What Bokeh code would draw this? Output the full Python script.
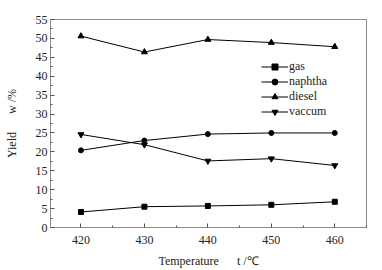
from bokeh.plotting import figure
from bokeh.models import FixedTicker, Legend, LegendItem
from bokeh.embed import file_html
from bokeh.resources import INLINE

temps = [420, 430, 440, 450, 460]
gas = [4.1, 5.5, 5.7, 6.0, 6.8]
naphtha = [20.4, 23.0, 24.7, 25.0, 25.0]
diesel = [50.6, 46.4, 49.7, 48.9, 47.8]
vaccum = [24.6, 21.9, 17.6, 18.2, 16.4]
series_names = ["gas", "naphtha", "diesel", "vaccum"]
x_ticks = [420, 430, 440, 450, 460]
y_ticks = [0, 5, 10, 15, 20, 25, 30, 35, 40, 45, 50, 55]
x_title = "Temperature" + "\u00a0" * 6 + "t /℃"
y_title = "Yield" + "\u00a0" * 6 + "w /%"

FONT = "Liberation Serif"

p = figure(width=382, height=270, output_backend="svg", toolbar_location=None,
           x_range=(415.2, 465), y_range=(0, 55),
           min_border_left=50, min_border_right=16, min_border_top=19, min_border_bottom=43)
p.grid.visible = False
p.outline_line_color = "#8a8a8a"
p.outline_line_width = 1
p.background_fill_color = "white"
p.border_fill_color = "white"

for ax in (p.xaxis[0], p.yaxis[0]):
    ax.axis_line_color = "#8a8a8a"
    ax.major_tick_line_color = "#555555"
    ax.minor_tick_line_color = "#555555"
    ax.major_tick_in = 4
    ax.major_tick_out = 0
    ax.minor_tick_in = 2
    ax.minor_tick_out = 0
    ax.major_label_text_font = FONT
    ax.major_label_text_font_size = "12px"
    ax.major_label_text_color = "#222222"
    ax.axis_label_text_font = FONT
    ax.axis_label_text_font_size = "12px"
    ax.axis_label_text_font_style = "normal"
    ax.axis_label_text_color = "#222222"

p.xaxis.ticker = FixedTicker(ticks=x_ticks, minor_ticks=[415, 425, 435, 445, 455, 465])
p.yaxis.ticker = FixedTicker(ticks=y_ticks, minor_ticks=[2.5 + 5 * i for i in range(11)])
p.xaxis.major_label_standoff = 8
p.yaxis.major_label_standoff = 3
p.xaxis.axis_label = x_title
p.yaxis.axis_label = y_title
p.xaxis.axis_label_standoff = 7
p.yaxis.axis_label_standoff = 14

data = [gas, naphtha, diesel, vaccum]
markers = ["square", "circle", "triangle", "inverted_triangle"]
sizes = [5, 5, 6, 6]
items = []
for name, ys, mk, sz in zip(series_names, data, markers, sizes):
    l = p.line(temps, ys, line_color="black", line_width=1)
    s = p.scatter(temps, ys, marker=mk, size=sz, fill_color="black", line_color="black")
    items.append(LegendItem(label=name, renderers=[l, s]))

legend = Legend(items=items, location=(211, 108))
legend.label_text_font = FONT
legend.label_text_font_size = "12px"
legend.label_text_color = "#222222"
legend.glyph_width = 27
legend.glyph_height = 15
legend.label_height = 15
legend.label_standoff = 1
legend.spacing = 0
legend.padding = 0
legend.margin = 0
legend.border_line_alpha = 0
legend.background_fill_alpha = 0
p.add_layout(legend)

open("out.html", "w").write(file_html(p, INLINE))
